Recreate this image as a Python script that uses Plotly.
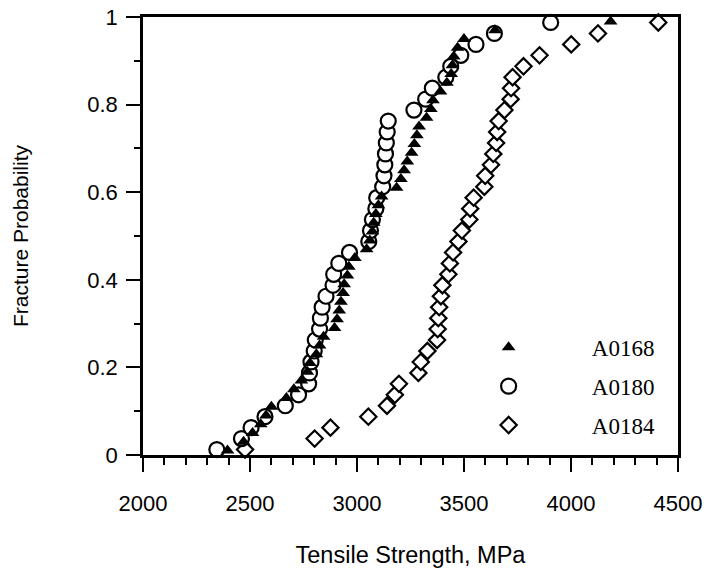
import plotly.graph_objects as go

# ---- data ----
series_names = ["A0168", "A0180", "A0184"]

a0168_strength = [2395, 2470, 2512, 2550, 2575, 2600, 2670, 2705, 2740, 2768,
                  2780, 2810, 2825, 2844, 2895, 2907, 2917, 2925, 2935, 2940,
                  2955, 2962, 2990, 3045, 3060, 3072, 3078, 3088, 3100, 3115,
                  3185, 3205, 3220, 3235, 3255, 3268, 3280, 3290, 3325, 3345,
                  3355, 3390, 3420, 3440, 3446, 3452, 3470, 3500, 3645, 4185]
a0168_prob = [0.01, 0.03, 0.05, 0.07, 0.09, 0.11, 0.13, 0.15, 0.17, 0.19,
              0.21, 0.23, 0.25, 0.27, 0.29, 0.31, 0.33, 0.35, 0.37, 0.39,
              0.41, 0.43, 0.45, 0.47, 0.49, 0.51, 0.53, 0.55, 0.57, 0.59,
              0.61, 0.63, 0.65, 0.67, 0.69, 0.71, 0.73, 0.75, 0.77, 0.79,
              0.81, 0.83, 0.85, 0.87, 0.89, 0.91, 0.93, 0.95, 0.97, 0.99]

a0180_strength = [2345, 2460, 2505, 2570, 2665, 2727, 2774, 2778, 2785, 2800,
                  2805, 2825, 2829, 2837, 2855, 2888, 2891, 2915, 2965, 3055,
                  3063, 3072, 3088, 3092, 3120, 3126, 3130, 3133, 3137, 3141,
                  3146, 3266, 3321, 3352, 3415, 3438, 3485, 3556, 3642, 3905]
a0180_prob = [0.0125, 0.0375, 0.0625, 0.0875, 0.1125, 0.1375, 0.1625, 0.1875, 0.2125, 0.2375,
              0.2625, 0.2875, 0.3125, 0.3375, 0.3625, 0.3875, 0.4125, 0.4375, 0.4625, 0.4875,
              0.5125, 0.5375, 0.5625, 0.5875, 0.6125, 0.6375, 0.6625, 0.6875, 0.7125, 0.7375,
              0.7625, 0.7875, 0.8125, 0.8375, 0.8625, 0.8875, 0.9125, 0.9375, 0.9625, 0.9875]

a0184_strength = [2477, 2802, 2876, 3053, 3140, 3177, 3196, 3287, 3298, 3329,
                  3374, 3377, 3380, 3384, 3392, 3399, 3427, 3434, 3449, 3474,
                  3490, 3525, 3529, 3545, 3595, 3599, 3626, 3637, 3650, 3655,
                  3662, 3689, 3718, 3720, 3727, 3778, 3853, 4001, 4126, 4408]
a0184_prob = a0180_prob[:]

x_ticks = [2000, 2500, 3000, 3500, 4000, 4500]
y_ticks = [0, 0.2, 0.4, 0.6, 0.8, 1]
y_tick_text = ["0", "0.2", "0.4", "0.6", "0.8", "1"]

pad = "\u00a0" * 11

fig = go.Figure()
fig.add_trace(go.Scatter(
    x=a0184_strength, y=a0184_prob, mode="markers", name=pad + series_names[2],
    legendgroup="c", legendrank=3,
    marker=dict(symbol="diamond", size=12.5, color="white",
                line=dict(color="black", width=2.2)),
    cliponaxis=False))
fig.add_trace(go.Scatter(
    x=a0180_strength, y=a0180_prob, mode="markers", name=pad + series_names[1],
    legendgroup="b", legendrank=2,
    marker=dict(symbol="circle", size=15, color="white",
                line=dict(color="black", width=2.2)),
    cliponaxis=False))
fig.add_trace(go.Scatter(
    x=a0168_strength, y=a0168_prob, mode="markers", name=pad + series_names[0],
    legendgroup="a", legendrank=1,
    marker=dict(symbol="triangle-up", size=12, color="black",
                line=dict(color="black", width=0)),
    cliponaxis=False))

tick_font = dict(family="Liberation Sans, Arial, sans-serif", size=22, color="black")
xtitle_font = dict(family="Liberation Sans, Arial, sans-serif", size=23.5, color="black")
ytitle_font = dict(family="Liberation Sans, Arial, sans-serif", size=21, color="black")

fig.update_layout(
    template="none",
    width=706, height=572,
    margin=dict(l=143, r=28, t=17, b=117, autoexpand=False),
    paper_bgcolor="white", plot_bgcolor="white",
    showlegend=True,
    legend=dict(x=0.646, y=0.295, xanchor="left", yanchor="top",
                font=dict(family="Liberation Serif, Times New Roman, serif", size=23, color="black"),
                bgcolor="rgba(0,0,0,0)", borderwidth=0, tracegroupgap=6, itemwidth=30),
    xaxis=dict(range=[2000, 4500], tickvals=x_ticks, ticks="outside", ticklen=14,
               tickwidth=2, tickcolor="black", showline=True, linewidth=2.5,
               linecolor="black", mirror=True, showgrid=False, zeroline=False,
               automargin=False,
               tickfont=tick_font, ticklabelstandoff=13,
               minor=dict(dtick=100, ticks="outside", ticklen=7, tickwidth=2,
                          tickcolor="black", showgrid=False),
               title=dict(text="Tensile Strength, MPa", font=xtitle_font, standoff=32)),
    yaxis=dict(range=[0, 1], tickvals=y_ticks, ticktext=y_tick_text, ticks="outside",
               ticklen=14, tickwidth=2, tickcolor="black", showline=True, linewidth=2.5,
               linecolor="black", mirror=True, showgrid=False, zeroline=False,
               automargin=False,
               tickfont=tick_font, ticklabelstandoff=4,
               minor=dict(dtick=0.1, ticks="outside", ticklen=6, tickwidth=2,
                          tickcolor="black", showgrid=False),
               title=dict(text="Fracture Probability", font=ytitle_font, standoff=53)),
)

fig.write_html("out.html")
